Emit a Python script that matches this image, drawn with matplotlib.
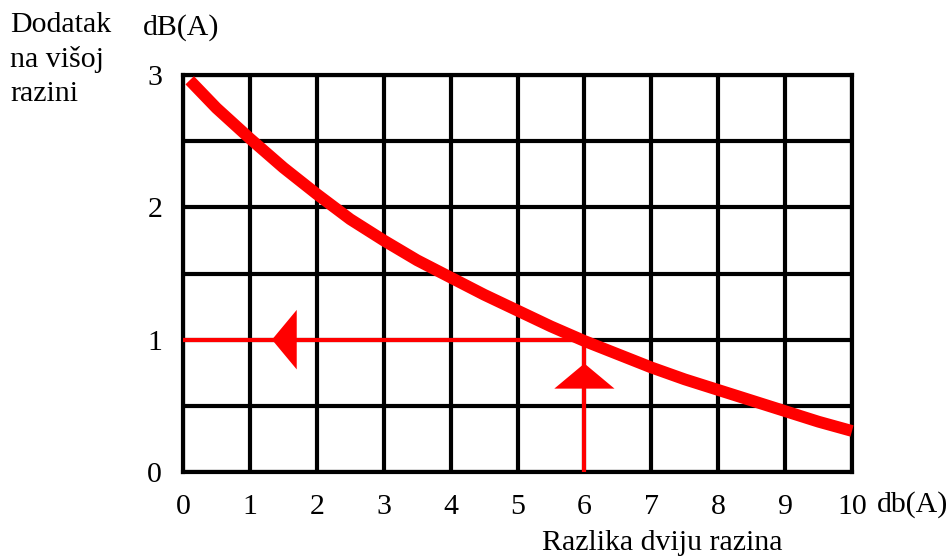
import matplotlib.pyplot as plt
from matplotlib.patches import Polygon

# DATA
razlika = [0.1, 0.5, 1, 1.5, 2, 2.5, 3, 3.5, 4, 4.5, 5, 5.5, 6, 6.5, 7, 7.5, 8, 8.5, 9, 9.5, 10]
dodatak = [2.96, 2.75, 2.52, 2.30, 2.10, 1.91, 1.75, 1.60, 1.47, 1.34, 1.22, 1.10, 0.99,
           0.89, 0.79, 0.70, 0.62, 0.54, 0.46, 0.38, 0.31]
x_ticks = [0, 1, 2, 3, 4, 5, 6, 7, 8, 9, 10]
y_ticks = [0, 1, 2, 3]
y_grid = [0.5, 1.5, 2.5]

# example reading: 6 dB difference -> 1 dB addition
primjer_x = 6
primjer_y = 1

plt.rcParams['font.family'] = ['Liberation Serif', 'DejaVu Serif']
FS = 21.5

fig = plt.figure(figsize=(9.51, 5.58), dpi=100)
ax = fig.add_axes([183 / 951, 86 / 558, 669 / 951, 397 / 558])
ax.set_xlim(0, 10)
ax.set_ylim(0, 3)

# grid
for x in x_ticks:
    ax.axvline(x, color='black', lw=3, zorder=1)
for y in y_ticks + y_grid:
    ax.axhline(y, color='black', lw=3, zorder=1)
for s in ax.spines.values():
    s.set_linewidth(3)

ax.set_xticks(x_ticks)
ax.set_yticks(y_ticks)
ax.tick_params(axis='x', length=0, labelsize=FS, pad=16)
ax.tick_params(axis='y', length=0, labelsize=FS, pad=15)

# example lines with arrowheads
ax.plot([0, primjer_x], [primjer_y, primjer_y], color='red', lw=3, zorder=3,
        solid_capstyle='butt', clip_on=False)
ax.plot([primjer_x, primjer_x], [0, primjer_y], color='red', lw=3, zorder=3,
        solid_capstyle='butt', clip_on=False)
lijevo = Polygon([(1.33, primjer_y), (1.7, primjer_y + 0.225), (1.7, primjer_y - 0.225)],
                 closed=True, color='red', zorder=3, lw=0)
gore = Polygon([(primjer_x, 0.82), (primjer_x - 0.45, 0.63), (primjer_x + 0.45, 0.63)],
               closed=True, color='red', zorder=3, lw=0)
ax.add_patch(lijevo)
ax.add_patch(gore)

# main curve
ax.plot(razlika, dodatak, color='red', lw=8.5, zorder=4, solid_capstyle='butt',
        solid_joinstyle='round', clip_on=False)

# labels
fig.text(10 / 951, 1 - 12 / 558, "Dodatak\nna višoj\nrazini", fontsize=FS,
         ha='left', va='top', linespacing=1.38)
fig.text(143 / 951, 1 - 28 / 558, "dB(A)", fontsize=FS, ha='left', va='center')
fig.text(877 / 951, 1 - 512 / 558, "db(A)", fontsize=FS, ha='left', va='baseline')
fig.text(662 / 951, 1 - 543 / 558, "Razlika dviju razina", fontsize=FS,
         ha='center', va='center')

plt.savefig('out.png', dpi=100)
plt.close()
